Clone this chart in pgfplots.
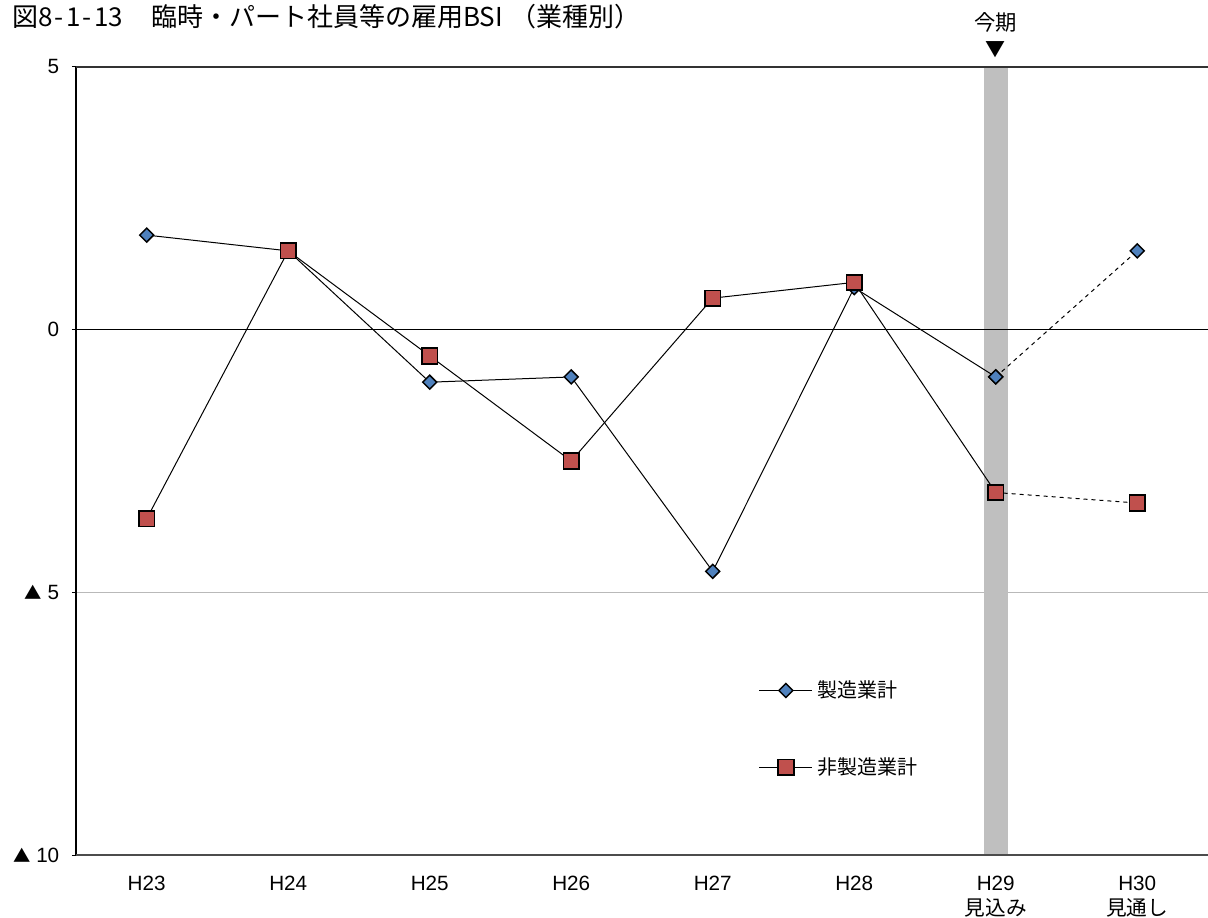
\documentclass[border=0pt]{standalone}
\usepackage{pgfplots}
\pgfplotsset{compat=1.18}
\usepackage{fontspec}
\setmainfont{Liberation Sans}
\newfontfamily\jp{Noto Sans CJK JP}
\definecolor{mfg}{HTML}{4F81BD}
\definecolor{nonmfg}{HTML}{C0504D}
\definecolor{band}{HTML}{BFBFBF}
\newcommand{\hw}[1]{\makebox[0.54em]{#1}}

\begin{document}
\begin{tikzpicture}
\begin{axis}[
  scale only axis, width=849pt, height=591pt,
  xmin=-0.5, xmax=7.5, ymin=-10, ymax=5,
  clip=false,
  axis line style={draw=none},
  xtick={0,...,7},
  xticklabels={H23,H24,H25,H26,H27,H28,{H29\\{\jp 見込み}},{H30\\{\jp 見通し}}},
  xticklabel style={align=center, font=\fontsize{15.5}{19}\selectfont, yshift=-9pt},
  x tick style={draw=none},
  ytick={-10,-5,0,5},
  yticklabels={{{\jp\fontsize{13}{15}\selectfont ▲} 10},{{\jp\fontsize{13}{15}\selectfont ▲} 5},0,5},
  yticklabel style={font=\fontsize{15.5}{19}\selectfont, xshift=-6pt},
  y tick style={black, line width=0.75pt},
  tick align=outside, major tick length=3pt,
  ymajorgrids, grid style={gray!55, line width=0.75pt},
  legend style={draw=none, fill=none, at={(axis description cs:0.603,0.227)},
    anchor=north west, font=\jp\fontsize{15}{18}\selectfont,
    row sep=36.5pt, inner sep=0pt, nodes={inner sep=3.5pt}},
  legend cell align=left,
  legend image code/.code={\draw[mark repeat=2,mark phase=2,#1]
    plot coordinates {(0cm,0cm) (0.7cm,0cm) (1.4cm,0cm)};},
]
% band marking the current period
\fill[band] (axis cs:5.915,-10) rectangle (axis cs:6.085,5);

\addplot[black, line width=0.75pt, mark=square*, mark size=3.7pt,
  mark options={rotate=45, fill=mfg, draw=black, line width=1.1pt}]
  coordinates {(0,1.8) (1,1.5) (2,-1.0) (3,-0.9) (4,-4.6) (5,0.8) (6,-0.9)};
\addlegendentry{製造業計}
\addplot[black, line width=0.75pt, dashed, forget plot, mark=square*, mark size=3.7pt,
  mark options={solid, rotate=45, fill=mfg, draw=black, line width=1.1pt}]
  coordinates {(6,-0.9) (7,1.5)};

\addplot[black, line width=0.75pt, mark=square*, mark size=5.8pt,
  mark options={fill=nonmfg, draw=black, line width=1.3pt}]
  coordinates {(0,-3.6) (1,1.5) (2,-0.5) (3,-2.5) (4,0.6) (5,0.9) (6,-3.1)};
\addlegendentry{非製造業計}
\addplot[black, line width=0.75pt, dashed, forget plot, mark=square*, mark size=5.8pt,
  mark options={solid, fill=nonmfg, draw=black, line width=1.3pt}]
  coordinates {(6,-3.1) (7,-3.3)};

% axis lines
\draw[black, line width=1.1pt] (axis description cs:0,0) -- (axis description cs:0,1);
\draw[black!80, line width=1.1pt] (axis description cs:0,1) -- (axis description cs:1,1);
\draw[black!70, line width=1.1pt] (axis description cs:0,0) -- (axis description cs:1,0);
\draw[black, line width=1.1pt] (axis cs:-0.5,0) -- (axis cs:7.5,0);

% annotations
\node[anchor=base west, font=\jp\fontsize{19.5}{22}\selectfont, inner sep=0pt]
  at (axis description cs:-0.0565,1.0508)
  {図\hw{8}\hw{-}\hw{1}\hw{-}\hw{1}\hw{3}\hspace{1.1em}臨時・パート社員等の雇用BSI\hspace{0.3em}（業種別）};
\node[anchor=base, font=\jp\fontsize{16}{18}\selectfont, inner sep=0pt]
  at (axis cs:6,5.7) {今期};
\node[font=\jp\fontsize{15}{18}\selectfont, inner sep=0pt]
  at (axis cs:6,5.32) {▼};

% page extent
\coordinate (pagebl) at (axis description cs:-0.0671,-0.0799);
\coordinate (pagetr) at (axis description cs:1,1.085);
\end{axis}
\pgfresetboundingbox
\path[use as bounding box] (pagebl) rectangle (pagetr);
\end{tikzpicture}
\end{document}
